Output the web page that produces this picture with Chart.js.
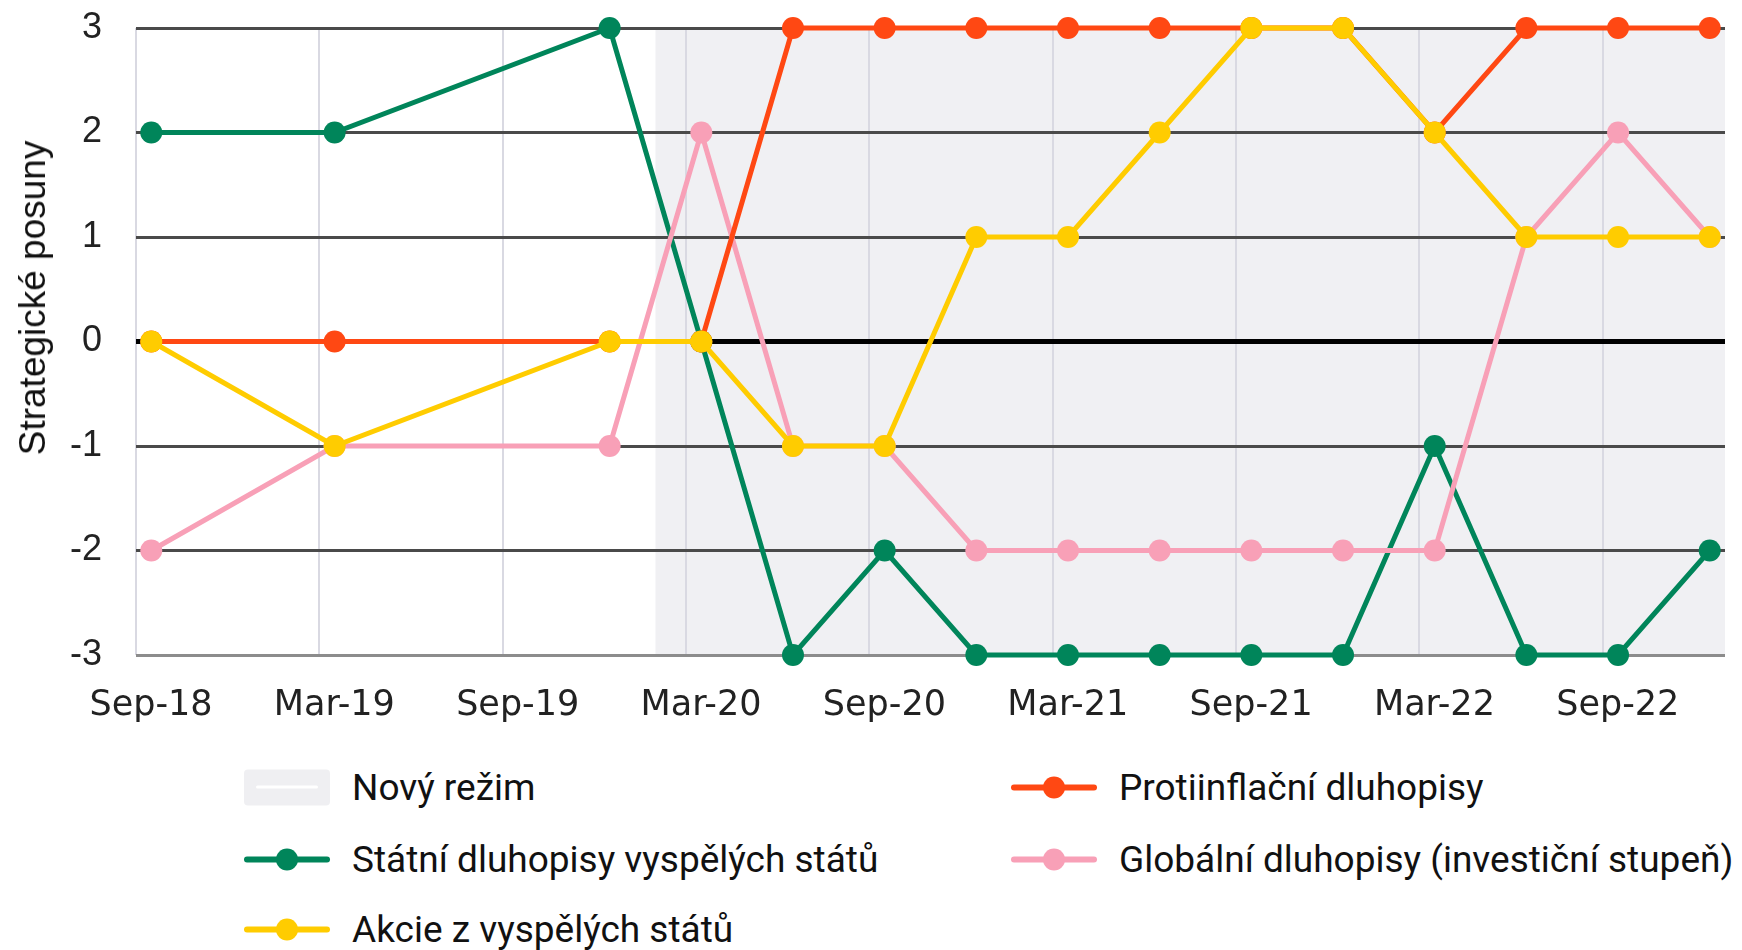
<!DOCTYPE html>
<html lang="cs">
<head>
<meta charset="utf-8">
<script src="https://cdn.jsdelivr.net/npm/chart.js@4"></script>
<style>
  body { margin: 0; background: #fff; }
  #wrap { position: relative; width: 1742px; height: 950px; overflow: hidden; }
  #chartCanvas { position: absolute; left: 0; top: 0; }
  #yTitle {
    position: absolute; left: 33px; top: 298px;
    transform: translate(-50%, -50%) rotate(-90deg);
    font: 37px "Liberation Sans", Arial, sans-serif; color: #111; white-space: nowrap;
  }
  .legend-item {
    position: absolute; display: flex; align-items: center;
    transform: translateY(-50%);
    font: 37px Roboto, sans-serif; color: #111; white-space: nowrap;
  }
  .swatch { position: relative; width: 86px; height: 36px; margin-right: 22px; flex: none; }
  .swatch .line { position: absolute; left: 0; right: 0; top: 15px; height: 6px; border-radius: 3px; }
  .swatch .dot { position: absolute; left: 32px; top: 7px; width: 22px; height: 22px; border-radius: 50%; }
  .swatch.area { background: #efeff2; border-radius: 4px; }
  .swatch.area .line { left: 12px; right: 12px; top: 16px; height: 3px; background: #fff; }
</style>
</head>
<body>
<div id="wrap">
  <canvas id="chartCanvas" width="1742" height="750"></canvas>
  <div id="yTitle">Strategické posuny</div>
  <div id="legend"></div>
</div>
<script>
// --- data ---
const pointDates = ["Sep-18", "Mar-19", "Dec-19", "Mar-20", "Jun-20", "Sep-20", "Dec-20", "Mar-21",
                    "Jun-21", "Sep-21", "Dec-21", "Mar-22", "Jun-22", "Sep-22", "Dec-22"];
const xTickLabels = ["Sep-18", "Mar-19", "Sep-19", "Mar-20", "Sep-20", "Mar-21", "Sep-21", "Mar-22", "Sep-22"];
const yTicks = [-3, -2, -1, 0, 1, 2, 3];

const statniDluhopisy   = [2, 2, 3, 0, -3, -2, -3, -3, -3, -3, -3, -1, -3, -3, -2];
const protiinflacni     = [0, 0, 0, 0, 3, 3, 3, 3, 3, 3, 3, 2, 3, 3, 3];
const globalniDluhopisy = [-2, -1, -1, 2, -1, -1, -2, -2, -2, -2, -2, -2, 1, 2, 1];
const akcie             = [0, -1, 0, 0, -1, -1, 1, 1, 2, 3, 3, 2, 1, 1, 1];

const novyRezimOd = "Feb-20"; // start of the shaded "Nový režim" band

const seriesNames = ["Státní dluhopisy vyspělých států", "Protiinflační dluhopisy",
                     "Globální dluhopisy (investiční stupeň)", "Akcie z vyspělých států"];
const seriesColors = ["#00855a", "#ff4813", "#f8a0b7", "#ffcc00"];
const seriesOrder = [3, 1, 2, 0];  // yellow on top

// months counted from Sep-18
const MONTHS = { Jan: 0, Feb: 1, Mar: 2, Apr: 3, May: 4, Jun: 5, Jul: 6, Aug: 7, Sep: 8, Oct: 9, Nov: 10, Dec: 11 };
function monthIndex(label) {
  const [m, yy] = label.split("-");
  return (2000 + Number(yy)) * 12 + MONTHS[m] - (2018 * 12 + 8);
}

const seriesValues = [statniDluhopisy, protiinflacni, globalniDluhopisy, akcie];

const datasets = seriesValues.map((vals, i) => ({
  label: seriesNames[i],
  data: pointDates.map((d, j) => ({ x: monthIndex(d), y: vals[j] })),
  borderColor: seriesColors[i],
  backgroundColor: seriesColors[i],
  pointBackgroundColor: seriesColors[i],
  pointBorderWidth: 0,
  borderWidth: 5,
  pointRadius: 11,
  pointHoverRadius: 11,
  order: seriesOrder[i],
  clip: false
}));

// grey band behind the grid
const rezimPlugin = {
  id: "rezim",
  beforeDraw(chart) {
    const { ctx, chartArea, scales } = chart;
    const left = scales.x.getPixelForValue(monthIndex(novyRezimOd) - 0.5);
    ctx.save();
    ctx.fillStyle = "#f0f0f3";
    ctx.fillRect(left, chartArea.top, chartArea.right - left, chartArea.bottom - chartArea.top);
    ctx.restore();
  }
};

const canvas = document.getElementById("chartCanvas");
new Chart(canvas, {
  type: "line",
  data: { datasets },
  options: {
    responsive: false,
    animation: false,
    devicePixelRatio: 1,
    layout: { padding: { top: 28, right: 17, left: 0, bottom: 0 } },
    plugins: { legend: { display: false }, tooltip: { enabled: false } },
    scales: {
      x: {
        type: "linear",
        min: -0.5,
        max: 51.5,
        afterBuildTicks: s => { s.ticks = xTickLabels.map(l => ({ value: monthIndex(l) - 0.5 })); },
        afterFit: s => { s.height = 95; s.paddingLeft = 0; s.paddingRight = 0; },
        border: { display: false },
        grid: { color: "#d9d9e2", lineWidth: 2, drawTicks: false },
        ticks: {
          autoSkip: false,
          maxRotation: 0,
          labelOffset: 15,
          padding: 30,
          color: "#222",
          font: { family: "DejaVu Sans", size: 35 },
          callback: (v, i) => xTickLabels[i]
        }
      },
      y: {
        min: -3,
        max: 3,
        afterBuildTicks: s => { s.ticks = yTicks.map(v => ({ value: v })); },
        afterFit: s => { s.width = 136; s.paddingTop = 0; s.paddingBottom = 0; },
        border: { display: false },
        grid: {
          drawTicks: false,
          color: c => c.tick.value === 0 ? "#000" : (c.tick.value === -3 ? "#8c8c8c" : "#4a4a4a"),
          lineWidth: c => c.tick.value === 0 ? 5 : 3
        },
        ticks: {
          padding: 34,
          color: "#222",
          font: { family: "Liberation Sans", size: 36 },
          callback: v => String(v)
        }
      }
    }
  },
  plugins: [rezimPlugin]
});

// --- legend (two columns, as in the original) ---
const legendEl = document.getElementById("legend");
const legendItems = [
  { text: "Nový režim", area: true, col: 0, row: 0 },
  { text: seriesNames[1], color: seriesColors[1], col: 1, row: 0 },
  { text: seriesNames[0], color: seriesColors[0], col: 0, row: 1 },
  { text: seriesNames[2], color: seriesColors[2], col: 1, row: 1 },
  { text: seriesNames[3], color: seriesColors[3], col: 0, row: 2 }
];
const colLeft = [244, 1011];
const rowTop = [787, 859, 929];

legendItems.forEach(it => {
  const item = document.createElement("div");
  item.className = "legend-item";
  item.style.left = colLeft[it.col] + "px";
  item.style.top = rowTop[it.row] + "px";
  const sw = document.createElement("div");
  sw.className = "swatch" + (it.area ? " area" : "");
  const line = document.createElement("div");
  line.className = "line";
  sw.appendChild(line);
  if (!it.area) {
    line.style.background = it.color;
    const dot = document.createElement("div");
    dot.className = "dot";
    dot.style.background = it.color;
    sw.appendChild(dot);
  }
  item.appendChild(sw);
  const label = document.createElement("span");
  label.textContent = it.text;
  item.appendChild(label);
  legendEl.appendChild(item);
});
</script>
</body>
</html>
